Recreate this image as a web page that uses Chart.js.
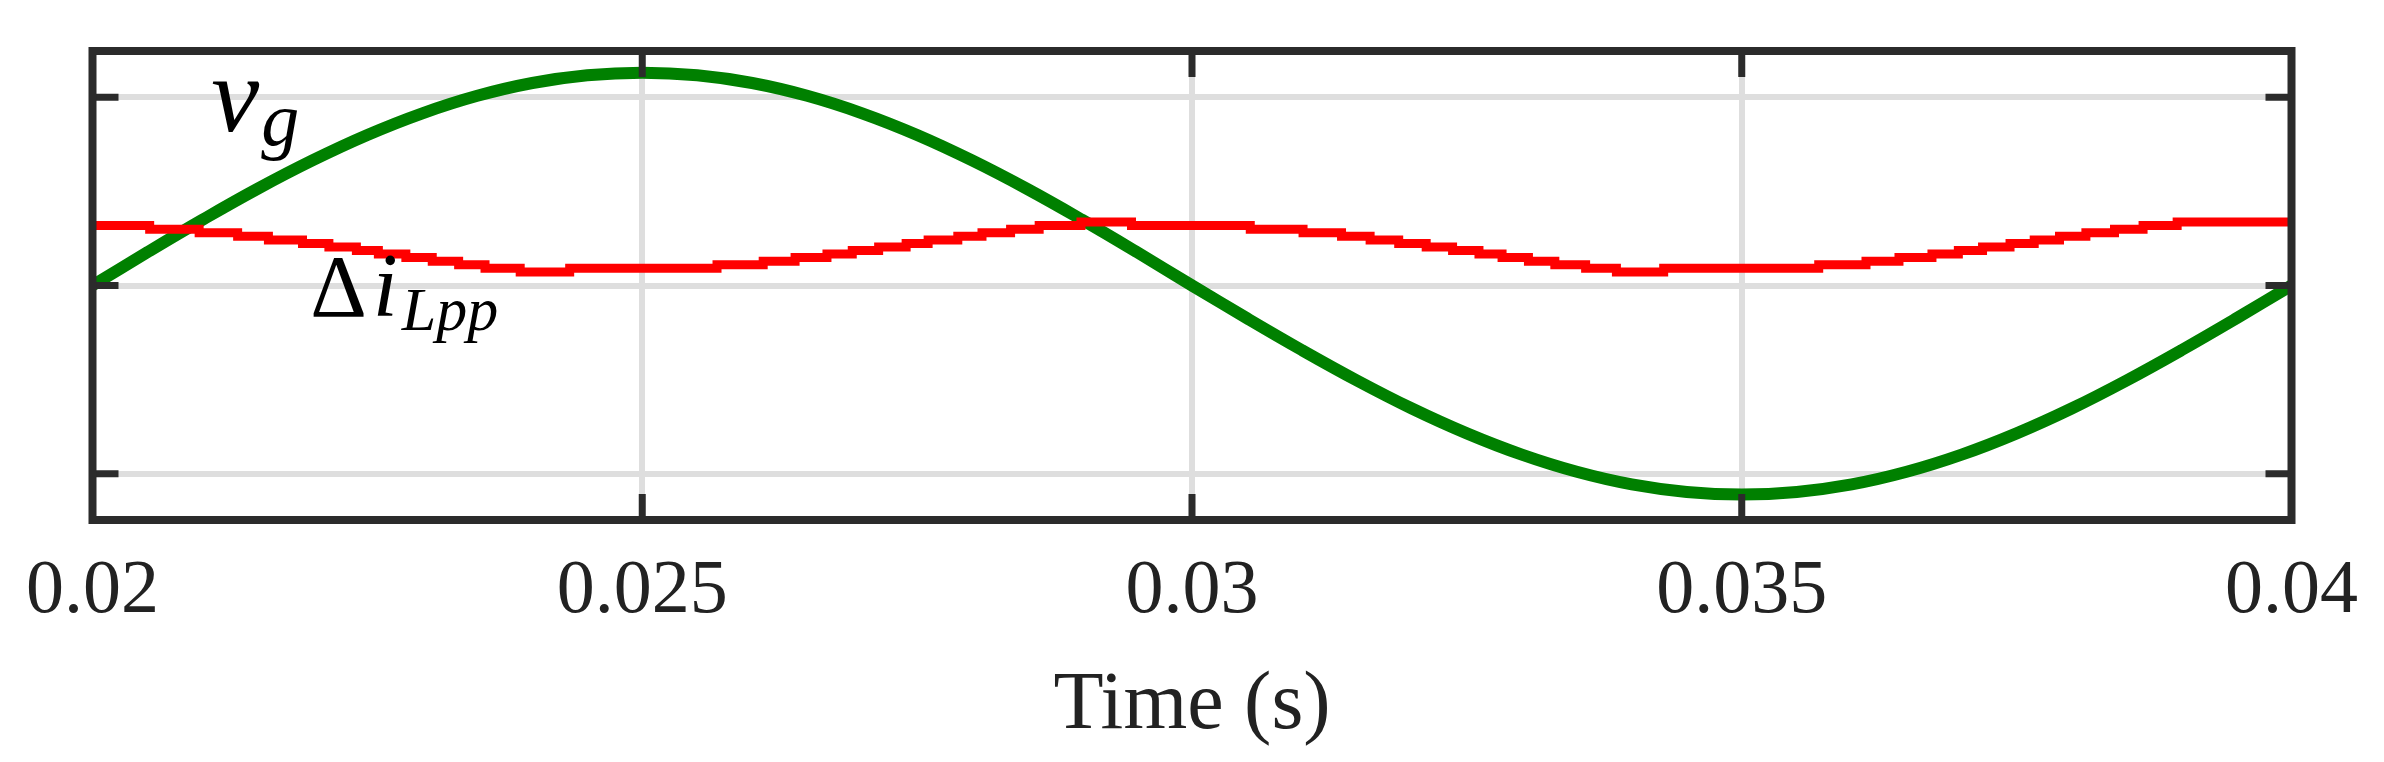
<!DOCTYPE html>
<html>
<head>
<meta charset="utf-8">
<script src="https://cdn.jsdelivr.net/npm/chart.js@4.4.0/dist/chart.umd.min.js"></script>
<style>
    html, body { margin: 0; padding: 0; background: #fff; }
    #wrap { width: 2384px; height: 762px; }
</style>
</head>
<body>
<div id="wrap"><canvas id="chart" width="2384" height="762"></canvas></div>
<script>
// tick positions
const xTicks = [0.02, 0.025, 0.03, 0.035, 0.04];
const yTicks = [-1, 0, 1];

// v_g (green), sampled every 0.5 ms
const greenT = [
    0.0200, 0.0205, 0.0210, 0.0215, 0.0220, 0.0225, 0.0230, 0.0235, 0.0240, 0.0245,
    0.0250, 0.0255, 0.0260, 0.0265, 0.0270, 0.0275, 0.0280, 0.0285, 0.0290, 0.0295,
    0.0300, 0.0305, 0.0310, 0.0315, 0.0320, 0.0325, 0.0330, 0.0335, 0.0340, 0.0345,
    0.0350, 0.0355, 0.0360, 0.0365, 0.0370, 0.0375, 0.0380, 0.0385, 0.0390, 0.0395,
    0.0400
];
const greenV = [
    0.000, 0.177, 0.349, 0.513, 0.664, 0.799, 0.914, 1.007, 1.075, 1.116,
    1.130, 1.116, 1.075, 1.007, 0.914, 0.799, 0.664, 0.513, 0.349, 0.177,
    0.000, -0.174, -0.343, -0.504, -0.653, -0.785, -0.898, -0.989, -1.056, -1.096,
    -1.110, -1.096, -1.056, -0.989, -0.898, -0.785, -0.653, -0.504, -0.343, -0.174,
    0.000
];

// delta i_Lpp (red), staircase: time where each level starts
const redT = [
    0.02000, 0.02052, 0.02097, 0.02132, 0.02160, 0.02191, 0.02215, 0.02240, 0.02260, 0.02285,
    0.02309, 0.02333, 0.02357, 0.02389, 0.02434,
    0.02568, 0.02610, 0.02639, 0.02668, 0.02691, 0.02715, 0.02740, 0.02760, 0.02787, 0.02809,
    0.02835, 0.02861, 0.02899, 0.02945,
    0.03053, 0.03101, 0.03136, 0.03162, 0.03188, 0.03213, 0.03237, 0.03261, 0.03282, 0.03306,
    0.03330, 0.03358, 0.03386, 0.03429,
    0.03570, 0.03613, 0.03643, 0.03673, 0.03697, 0.03719, 0.03744, 0.03766, 0.03789, 0.03813,
    0.03839, 0.03865, 0.03896, 0.03945, 0.04000
];
const redV = [
    0.337, 0.318, 0.299, 0.280, 0.261, 0.242, 0.223, 0.205, 0.186, 0.167,
    0.148, 0.129, 0.110, 0.091, 0.072,
    0.091, 0.110, 0.129, 0.148, 0.167, 0.186, 0.205, 0.223, 0.242, 0.261,
    0.280, 0.299, 0.318, 0.337,
    0.318, 0.299, 0.280, 0.261, 0.242, 0.223, 0.205, 0.186, 0.167, 0.148,
    0.129, 0.110, 0.091, 0.072,
    0.091, 0.110, 0.129, 0.148, 0.167, 0.186, 0.205, 0.223, 0.242, 0.261,
    0.280, 0.299, 0.318, 0.337, 0.337
];

const FRAME = '#2b2b2b';
const TEXT = '#222';

function toPoints(ts, vs) {
    return ts.map(function (t, i) { return { x: t, y: vs[i] }; });
}

// box around the plot with inward tick marks on all four sides
const framePlugin = {
    id: 'frame',
    afterDatasetsDraw(chart) {
        const a = chart.chartArea;
        const ctx = chart.ctx;
        const xs = chart.scales.x, ys = chart.scales.y;
        const len = 26;
        ctx.save();
        ctx.strokeStyle = FRAME;
        ctx.lineCap = 'butt';
        ctx.lineWidth = 7;
        xTicks.forEach(function (t) {
            const px = xs.getPixelForValue(t);
            ctx.beginPath();
            ctx.moveTo(px, a.bottom); ctx.lineTo(px, a.bottom - len);
            ctx.moveTo(px, a.top); ctx.lineTo(px, a.top + len);
            ctx.stroke();
        });
        yTicks.forEach(function (v) {
            const py = ys.getPixelForValue(v);
            ctx.beginPath();
            ctx.moveTo(a.left, py); ctx.lineTo(a.left + len, py);
            ctx.moveTo(a.right, py); ctx.lineTo(a.right - len, py);
            ctx.stroke();
        });
        ctx.lineWidth = 8;
        ctx.strokeRect(a.left, a.top, a.right - a.left, a.bottom - a.top);
        ctx.restore();
    }
};

// curve names written inside the plot
const namePlugin = {
    id: 'names',
    afterDraw(chart) {
        const ctx = chart.ctx;
        const xs = chart.scales.x, ys = chart.scales.y;
        ctx.save();
        ctx.fillStyle = '#000';
        ctx.textBaseline = 'alphabetic';
        ctx.textAlign = 'left';

        // v_g
        let x = xs.getPixelForValue(0.02108);
        let y = ys.getPixelForValue(0.819);
        ctx.font = 'italic 108px "Liberation Serif"';
        ctx.fillText('v', x, y);
        x += ctx.measureText('v').width + 2;
        ctx.font = 'italic 76px "Liberation Serif"';
        ctx.fillText('g', x, y + 14);

        // delta i_Lpp
        x = xs.getPixelForValue(0.02198);
        y = ys.getPixelForValue(-0.16);
        ctx.font = '88px "Liberation Serif"';
        ctx.fillText('\u0394', x, y);
        x += ctx.measureText('\u0394').width + 6;
        ctx.font = 'italic 90px "Liberation Serif"';
        ctx.fillText('i', x, y);
        x += ctx.measureText('i').width + 4;
        ctx.font = 'italic 62px "Liberation Serif"';
        ctx.fillText('Lpp', x, y + 14);
        ctx.restore();
    }
};

const ctx = document.getElementById('chart').getContext('2d');
new Chart(ctx, {
    type: 'line',
    data: {
        datasets: [{
            label: 'delta i_Lpp',
            data: toPoints(redT, redV),
            borderColor: '#ff0000',
            borderWidth: 9,
            stepped: 'after',
            pointRadius: 0,
            fill: false
        }, {
            label: 'v_g',
            data: toPoints(greenT, greenV),
            borderColor: '#008000',
            borderWidth: 12,
            tension: 0.4,
            pointRadius: 0,
            fill: false
        }]
    },
    options: {
        responsive: false,
        animation: false,
        devicePixelRatio: 1,
        layout: { padding: { left: 91, right: 86, top: 51, bottom: 0 } },
        plugins: {
            legend: { display: false },
            tooltip: { enabled: false }
        },
        scales: {
            x: {
                type: 'linear',
                min: 0.02,
                max: 0.04,
                afterBuildTicks: function (s) {
                    s.ticks = xTicks.map(function (v) { return { value: v }; });
                },
                afterFit: function (s) { s.height = 242; },
                grid: { color: '#dedede', lineWidth: 6, drawTicks: false },
                border: { display: false },
                ticks: {
                    padding: 26,
                    color: TEXT,
                    font: { family: 'Liberation Serif', size: 76 },
                    maxRotation: 0,
                    callback: function (v) { return parseFloat(v.toFixed(3)).toString(); }
                },
                title: {
                    display: true,
                    text: 'Time (s)',
                    color: TEXT,
                    font: { family: 'Liberation Serif', size: 82 },
                    padding: { top: 0, bottom: 6 }
                }
            },
            y: {
                type: 'linear',
                min: -1.245,
                max: 1.245,
                afterBuildTicks: function (s) {
                    s.ticks = yTicks.map(function (v) { return { value: v }; });
                },
                afterFit: function (s) { s.width = 0; },
                grid: { color: '#dedede', lineWidth: 6, drawTicks: false },
                border: { display: false },
                ticks: { display: false }
            }
        }
    },
    plugins: [framePlugin, namePlugin]
});
</script>
</body>
</html>
